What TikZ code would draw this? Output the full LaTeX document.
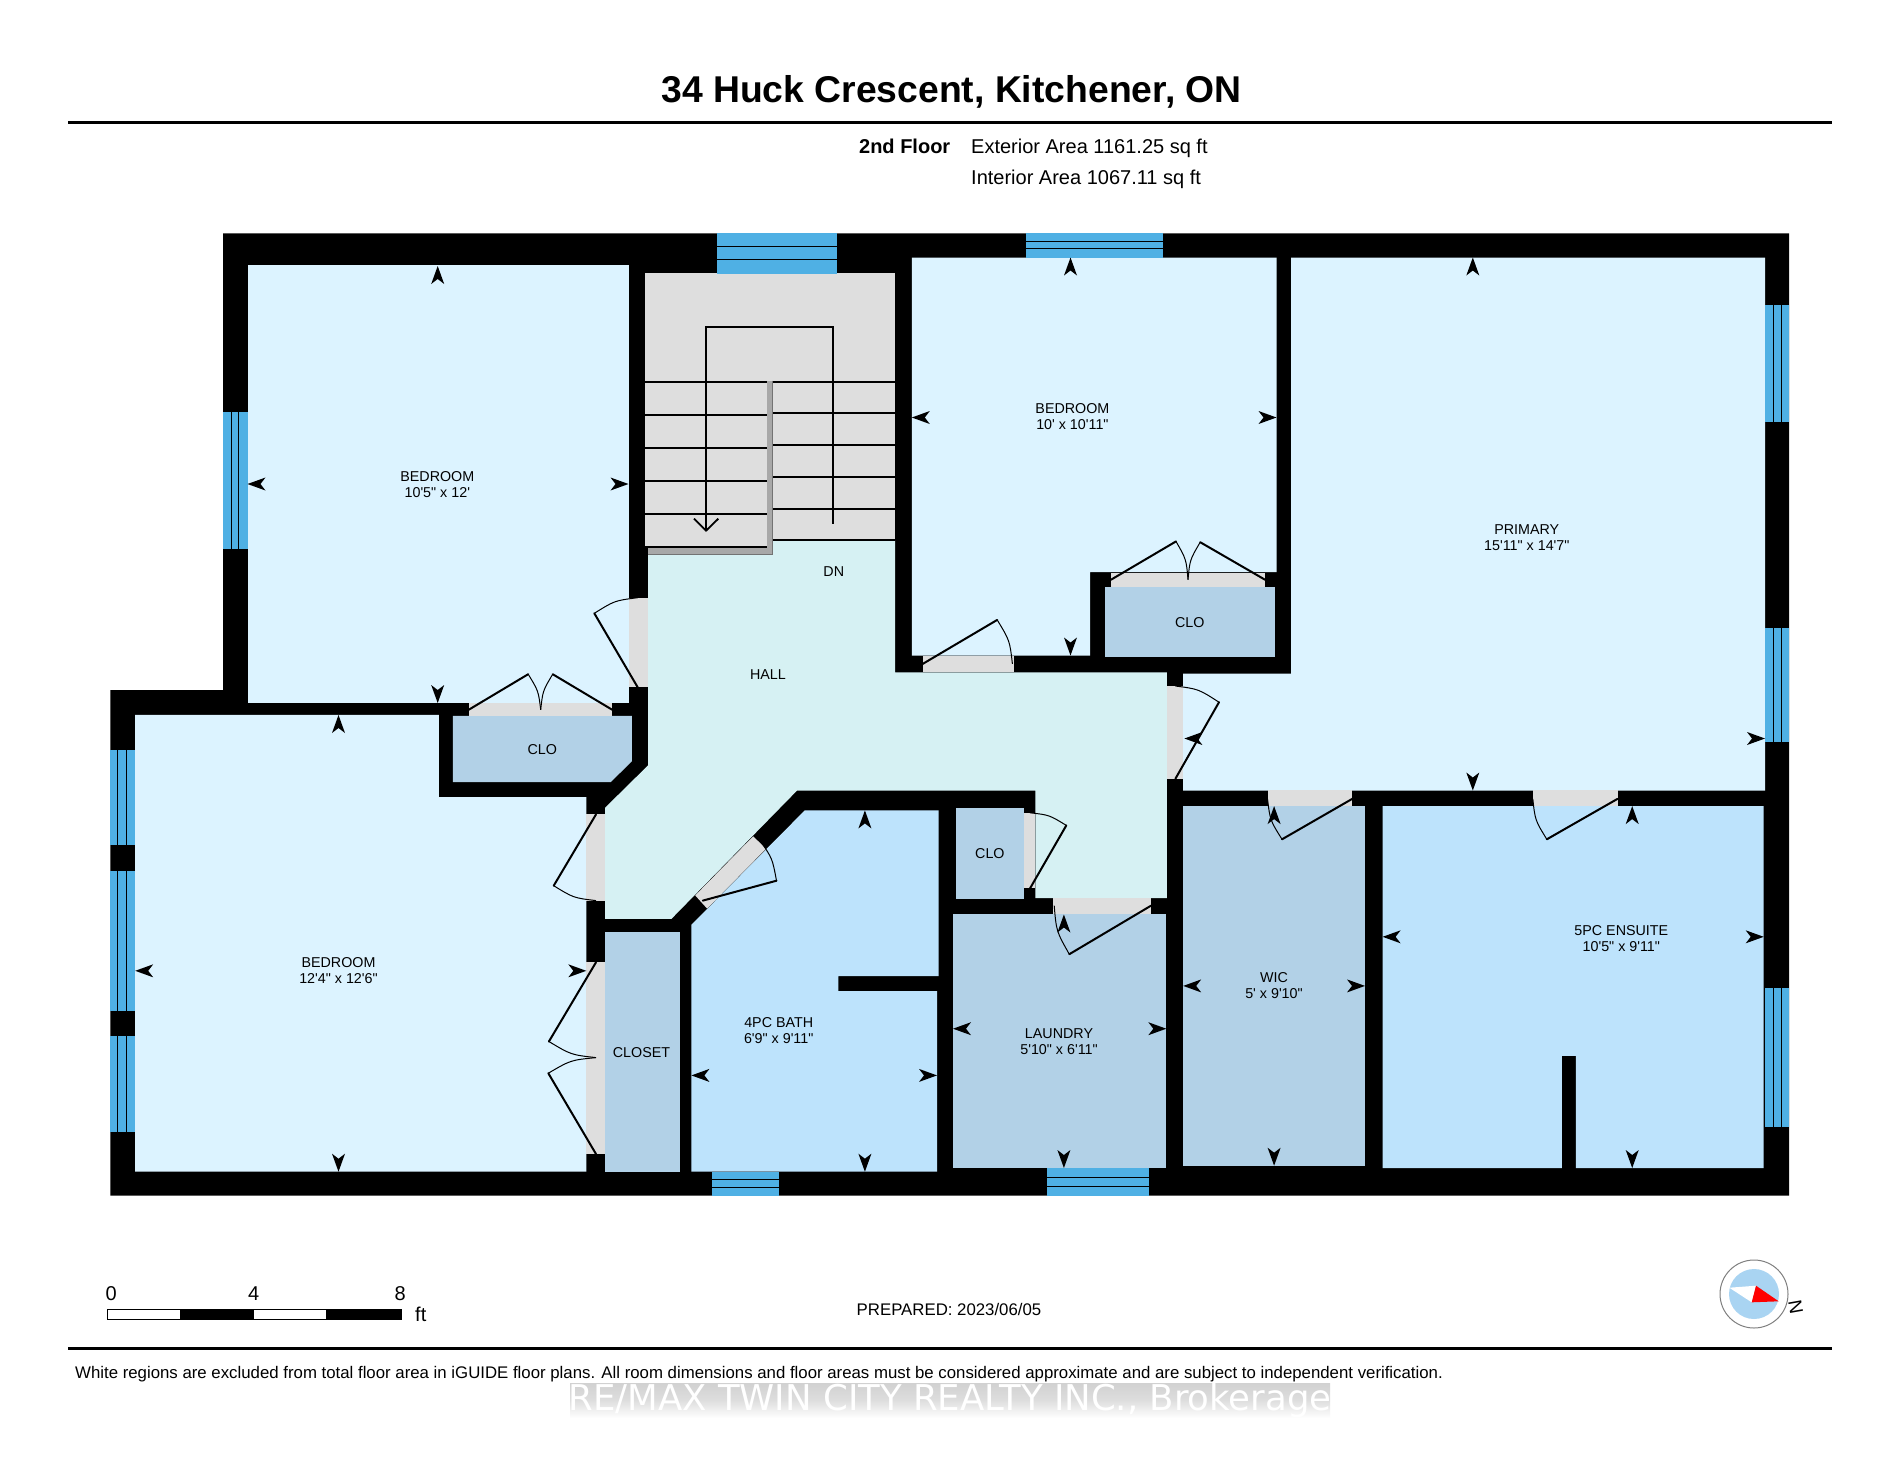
\documentclass[tikz,border=0pt]{standalone}
\usepackage{fontspec}
\setmainfont{Liberation Sans}
\newfontfamily\wmfont{DejaVu Sans}
\usetikzlibrary{calc}
\newcommand\ftm{\textquotesingle{}}
\newcommand\inm{\textquotedbl{}}
\definecolor{roomlight}{HTML}{DCF3FF}
\definecolor{hallc}{HTML}{D6F1F3}
\definecolor{wetc}{HTML}{BDE3FC}
\definecolor{closetc}{HTML}{B2D1E7}
\definecolor{doorc}{HTML}{DEDEDE}
\definecolor{shadowc}{HTML}{A8A8A8}
\definecolor{winc}{HTML}{4FB0E4}
\definecolor{compassc}{HTML}{A9D4F2}
\tikzset{
  leaf/.style={line width=2pt,line cap=round,black},
  arcline/.style={line width=1pt,black},
  stairline/.style={line width=1.8pt,black},
  winline/.style={line width=1pt,black},
  roomlabel/.style={font=\fontsize{14.3}{16}\selectfont,align=center,inner sep=0pt,text=black},
}
\newcommand\doorleaf[3]{%
  \draw[leaf] (#1) -- (#2);
  \draw[arcline] (#2) .. controls ($(#1)+0.53*(#2)+0.53*(#3)-1.06*(#1)$) .. (#3);}
\newcommand\dimarrow[3]{%
  \fill[black,shift={(#1,#2)},rotate=#3] (0,0) -- (-18,-6.5) -- (-13,0) -- (-18,6.5) -- cycle;}
\newcommand\winh[6]{%
  \fill[winc] (#1,#3) rectangle (#2,#4);
  \draw[winline] (#1,#5) -- (#2,#5) (#1,#6) -- (#2,#6);}
\newcommand\winv[6]{%
  \fill[winc] (#1,#3) rectangle (#2,#4);
  \draw[winline] (#5,#3) -- (#5,#4) (#6,#3) -- (#6,#4);}
\begin{document}
\begin{tikzpicture}[x=1pt,y=-1pt]
\useasboundingbox (0,0) rectangle (1900,1468);
\fill[white] (0,0) rectangle (1900,1468);
% header
\node[font=\bfseries\fontsize{37.3}{40}\selectfont,inner sep=0pt] (title) at (951.5,91.5) {34 Huck Crescent, Kitchener, ON};
\draw[line width=3pt] (68,122.4) -- (1832,122.4);
\node[font=\bfseries\fontsize{20}{22}\selectfont,inner sep=0pt,anchor=base] (floor) at (904.7,153.5) {2nd Floor};
\node[font=\fontsize{20}{22}\selectfont,inner sep=0pt,anchor=base west] (ext) at (971,153.5) {Exterior Area 1161.25 sq ft};
\node[font=\fontsize{20}{22}\selectfont,inner sep=0pt,anchor=base west] (int) at (971,184) {Interior Area 1067.11 sq ft};
% walls
\fill[black] (223,233.4) -- (1789,233.4) -- (1789,1195.5) -- (110.3,1195.5) -- (110.3,690) -- (223,690) -- cycle;
% rooms
\fill[roomlight] (247.5,265.2) rectangle (628.5,702.9);
\fill[roomlight] (135.2,714.9) -- (438.8,714.9) -- (438.8,797.2) -- (586.3,797.2) -- (586.3,1171.7) -- (135.2,1171.7) -- cycle;
\fill[closetc] (452.9,715.9) -- (631.8,715.9) -- (631.8,761.4) -- (610.6,782.2) -- (452.9,782.2) -- cycle;
\fill[hallc] (648.2,553.3) -- (772.7,553.3) -- (772.7,540.7) -- (895,540.7) -- (895,672.3) -- (1166.9,672.3) -- (1166.9,898) -- (1035.4,898) -- (1035.4,790.5) -- (797.1,790.5) -- (671.4,918.9) -- (605.2,918.9) -- (605.2,807.6) -- (648.2,765.2) -- cycle;
\fill[roomlight] (911.8,257.5) -- (1276.5,257.5) -- (1276.5,572) -- (1090,572) -- (1090,655.5) -- (911.8,655.5) -- cycle;
\fill[closetc] (1104.5,587.4) rectangle (1275.3,657.4);
\fill[roomlight] (1291,257.5) -- (1765,257.5) -- (1765,790.5) -- (1183.2,790.5) -- (1183.2,673.5) -- (1291,673.5) -- cycle;
\fill[closetc] (1183.2,806.1) rectangle (1365,1165.7);
\fill[wetc] (1382.6,806.1) -- (1763.7,806.1) -- (1763.7,1168) -- (1575.8,1168) -- (1575.8,1055.8) -- (1561.9,1055.8) -- (1561.9,1168) -- (1382.6,1168) -- cycle;
\fill[closetc] (953,913.9) rectangle (1166.3,1168);
\fill[closetc] (956,808.1) rectangle (1023.9,899);
\fill[wetc] (804.7,810.4) -- (938.6,810.4) -- (938.6,976.2) -- (838.3,976.2) -- (838.3,991.2) -- (937,991.2) -- (937,1171.7) -- (691.4,1171.7) -- (691.4,924.8) -- cycle;
\fill[closetc] (605.2,932.1) rectangle (679.5,1171.7);
% door openings
\fill[doorc] (628.7,597.7) rectangle (648.2,687.3);
\fill[doorc] (468.6,703) rectangle (612.3,716.3);
\fill[doorc] (586.3,814.4) rectangle (605.2,900.6);
\fill[doorc] (586.3,962.3) rectangle (605.2,1154);
\fill[doorc] (753.2,836.3) -- (766,848.8) -- (707.1,908.6) -- (695.2,895.4) -- cycle;
\fill[doorc] (922.7,655.5) rectangle (1013.6,672.3);
\fill[doorc] (1111,572.8) rectangle (1265,587.4);
\fill[doorc] (1166.9,686) rectangle (1183.2,778.7);
\fill[doorc] (1267.5,790.2) rectangle (1352.3,806.1);
\fill[doorc] (1532.8,790.2) rectangle (1617.6,806.1);
\fill[doorc] (1053,898) rectangle (1151.1,913.9);
\fill[doorc] (1023.9,812.8) rectangle (1035.4,888.4);
% stairs
\fill[doorc] (645.3,273) rectangle (895,380.7);
\fill[shadowc] (648.2,380.7) -- (772.7,380.7) -- (772.7,554) -- (648.2,554) -- cycle;
\draw[black!55,line width=1pt] (772.7,380.7) -- (772.7,554) -- (648.2,554);
\fill[doorc] (645.3,380.7) rectangle (766.7,546.7);
\fill[doorc] (773.3,380.7) rectangle (895,540.7);
\draw[stairline] (645.3,381.7) -- (766.7,381.7) (645.3,414.7) -- (766.7,414.7) (645.3,447.7) -- (766.7,447.7) (645.3,481) -- (766.7,481) (645.3,514) -- (766.7,514) (645.3,546.7) -- (766.7,546.7);
\draw[stairline] (773.3,381.7) -- (895,381.7) (773.3,413.3) -- (895,413.3) (773.3,445) -- (895,445) (773.3,476.7) -- (895,476.7) (773.3,508.7) -- (895,508.7) (773.3,540.3) -- (895,540.3);
\draw[stairline] (706,530.7) -- (706,326.7) -- (833.3,326.7) -- (833.3,524);
\draw[stairline] (694,518.7) -- (706,530.7) -- (718.3,518.7);
% windows
\winh{716.9}{837.2}{233.4}{273.6}{246}{259}
\winh{1025.7}{1163.2}{233.4}{257.5}{241}{248.7}
\winv{223}{247.5}{412}{549}{231.2}{238.8}
\winv{1765}{1789}{305}{421.7}{1773.3}{1781.8}
\winv{1765}{1789}{627.9}{742.3}{1773.3}{1781.8}
\winv{1765}{1789}{988}{1126.5}{1773.3}{1781.8}
\winv{110.3}{135.2}{749.7}{845.3}{117.9}{126}
\winv{110.3}{135.2}{871.1}{1010.5}{117.9}{126}
\winv{110.3}{135.2}{1036}{1132}{117.9}{126}
\winh{712}{779.2}{1171.7}{1195.5}{1179}{1187}
\winh{1046.9}{1149.3}{1168}{1195.5}{1177}{1186.3}
% door leaves
\doorleaf{637.7,687.3}{594.3,613.3}{637.7,597.7}
\doorleaf{468.6,709.8}{528.2,674.2}{540.7,709.8}
\doorleaf{612.3,709.8}{552.7,674.2}{540.7,709.8}
\doorleaf{596,814.4}{553.7,885.7}{596,900.6}
\doorleaf{596,962.3}{548.9,1041.5}{596,1057.6}
\doorleaf{596,1154}{548.3,1073.2}{596,1057.6}
\doorleaf{702.8,900.6}{776.5,880.7}{760.3,840.9}
\doorleaf{922.7,663.9}{997.2,619.9}{1012.4,663.9}
\doorleaf{1111,579.7}{1176,541.4}{1188,579.7}
\doorleaf{1265,579.7}{1200.2,542.2}{1188,579.7}
\doorleaf{1175.4,778.7}{1219,702.2}{1175.4,686}
\doorleaf{1352.3,798.8}{1282,839.3}{1267.5,798.8}
\doorleaf{1617.6,798.8}{1546.8,839.3}{1532.8,798.8}
\doorleaf{1151.1,905.6}{1069.3,954.2}{1054.2,905.6}
\doorleaf{1030,888.4}{1066.3,825.4}{1030,812.8}
% dimension arrows
\dimarrow{437.7}{266}{90}\dimarrow{437.7}{703}{270}\dimarrow{247.5}{484}{180}\dimarrow{628.5}{484}{0}
\dimarrow{338.5}{715}{90}\dimarrow{338.5}{1171.7}{270}\dimarrow{135.2}{970.8}{180}\dimarrow{586.3}{970.8}{0}
\dimarrow{1070.5}{257.5}{90}\dimarrow{1070.5}{655.5}{270}\dimarrow{911.8}{417.5}{180}\dimarrow{1276.5}{417.5}{0}
\dimarrow{1472.8}{257.5}{90}\dimarrow{1472.8}{790.5}{270}\dimarrow{1184.4}{738.5}{180}\dimarrow{1765}{738.5}{0}
\dimarrow{864.9}{810.4}{90}\dimarrow{864.9}{1171.7}{270}\dimarrow{691.4}{1075.4}{180}\dimarrow{937}{1075.4}{0}
\dimarrow{1063.9}{914.5}{90}\dimarrow{1063.9}{1168}{270}\dimarrow{953}{1028.7}{180}\dimarrow{1166.3}{1028.7}{0}
\dimarrow{1274.1}{806.1}{90}\dimarrow{1274.1}{1165.7}{270}\dimarrow{1183.2}{985.9}{180}\dimarrow{1365}{985.9}{0}
\dimarrow{1632.2}{806.1}{90}\dimarrow{1632.2}{1168}{270}\dimarrow{1382.6}{936.8}{180}\dimarrow{1763.7}{936.8}{0}
% room labels
\node[roomlabel] (bed1) at (437.3,484.4) {BEDROOM\\10\ftm5\inm\ x 12\ftm};
\node[roomlabel] (bed2) at (338.5,971) {BEDROOM\\12\ftm4\inm\ x 12\ftm6\inm};
\node[roomlabel] (bed3) at (1072.4,416.5) {BEDROOM\\10\ftm\ x 10\ftm11\inm};
\node[roomlabel] (prim) at (1526.8,537.2) {PRIMARY\\15\ftm11\inm\ x 14\ftm7\inm};
\node[roomlabel] (hall) at (768,674.3) {HALL};
\node[roomlabel] (dn) at (833.8,571.7) {DN};
\node[roomlabel] (clo1) at (542.3,749.6) {CLO};
\node[roomlabel] (clo2) at (1189.8,622.2) {CLO};
\node[roomlabel] (clo3) at (989.9,853.2) {CLO};
\node[roomlabel] (closet) at (641.5,1052.5) {CLOSET};
\node[roomlabel] (bath) at (778.7,1030.5) {4PC BATH\\6\ftm9\inm\ x 9\ftm11\inm};
\node[roomlabel] (laun) at (1059,1042) {LAUNDRY\\5\ftm10\inm\ x 6\ftm11\inm};
\node[roomlabel] (wic) at (1274,986) {WIC\\5\ftm\ x 9\ftm10\inm};
\node[roomlabel] (ens) at (1621.3,939) {5PC ENSUITE\\10\ftm5\inm\ x 9\ftm11\inm};
% scale bar
\draw[black,line width=1pt,fill=white] (107.4,1309) rectangle (401.3,1319);
\fill[black] (179.7,1309) rectangle (253.8,1319);
\fill[black] (326.1,1309) rectangle (401.3,1319);
\node[font=\fontsize{20}{22}\selectfont,inner sep=0pt] (s0) at (111.3,1293.3) {0};
\node[font=\fontsize{20}{22}\selectfont,inner sep=0pt] (s4) at (253.8,1293.3) {4};
\node[font=\fontsize{20}{22}\selectfont,inner sep=0pt] (s8) at (400.2,1293.3) {8};
\node[font=\fontsize{20}{22}\selectfont,inner sep=0pt] (sft) at (420.8,1314) {ft};
\node[font=\fontsize{16.8}{18}\selectfont,inner sep=0pt] (prep) at (949,1309.6) {PREPARED: 2023/06/05};
% compass
\draw[gray,line width=1pt,fill=white] (1754,1294) circle (34);
\fill[compassc] (1754,1294) circle (25);
\fill[white] (1729.3,1287.7) -- (1756,1285.7) -- (1751.7,1302.3) -- cycle;
\fill[red] (1756,1285.7) -- (1778.7,1301.3) -- (1751.7,1302.3) -- cycle;
\node[font=\fontsize{19}{20}\selectfont,inner sep=0pt,rotate=-80] (north) at (1795.7,1306.7) {N};
% footer
\draw[line width=3pt] (68,1348) -- (1832,1348);
\node[font=\fontsize{16.8}{18}\selectfont,inner sep=0pt,anchor=west] (note) at (75,1374) {White regions are excluded from total floor area in iGUIDE floor plans. All room dimensions and floor areas must be considered approximate and are subject to independent verification.};
\shade[top color=black!18,bottom color=white,middle color=black!13] (570,1383) rectangle (1330,1418);
\node[font=\wmfont\fontsize{35.5}{37}\selectfont,text=white,inner sep=0pt] (wm) at (950,1401) {RE/MAX TWIN CITY REALTY INC., Brokerage};
\end{tikzpicture}
\end{document}
